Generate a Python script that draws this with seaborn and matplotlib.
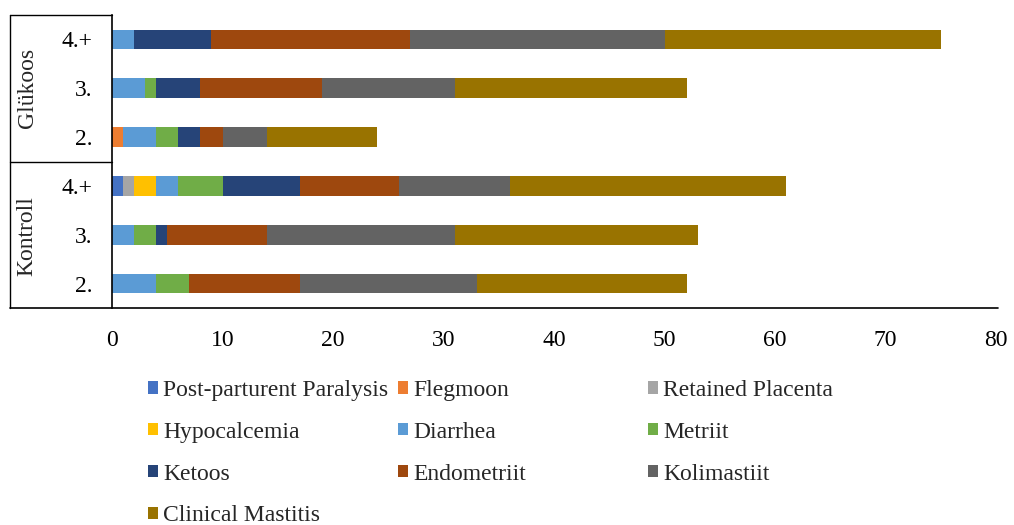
import matplotlib
matplotlib.use("Agg")
import matplotlib.pyplot as plt
from matplotlib.lines import Line2D
from matplotlib.patches import Patch
import pandas as pd
import seaborn as sns

# rows from top to bottom
groups = ["Glükoos", "Glükoos", "Glükoos", "Kontroll", "Kontroll", "Kontroll"]
parity = ["4.+", "3.", "2.", "4.+", "3.", "2."]

diseases = ["Post-parturent Paralysis", "Flegmoon", "Retained Placenta", "Hypocalcemia",
            "Diarrhea", "Metriit", "Ketoos", "Endometriit", "Kolimastiit", "Clinical Mastitis"]

paralysis = [0, 0, 0, 1, 0, 0]
flegmoon = [0, 0, 1, 0, 0, 0]
placenta = [0, 0, 0, 1, 0, 0]
hypocalcemia = [0, 0, 0, 2, 0, 0]
diarrhea = [2, 3, 3, 2, 2, 4]
metriit = [0, 1, 2, 4, 2, 3]
ketoos = [7, 4, 2, 7, 1, 0]
endometriit = [18, 11, 2, 9, 9, 10]
kolimastiit = [23, 12, 4, 10, 17, 16]
mastitis = [25, 21, 10, 25, 22, 19]

colors = ["#4472C4", "#ED7D31", "#A5A5A5", "#FFC000", "#5B9BD5",
          "#70AD47", "#264478", "#9E480E", "#636363", "#997300"]

series = [paralysis, flegmoon, placenta, hypocalcemia, diarrhea,
          metriit, ketoos, endometriit, kolimastiit, mastitis]

rows = [g + " " + p for g, p in zip(groups, parity)]
df = pd.DataFrame(dict(zip(diseases, series)), index=rows)
cum = df.cumsum(axis=1)
cum["row"] = rows

sns.set_theme(style="white")
plt.rcParams["font.family"] = ["Liberation Serif", "DejaVu Serif"]

W, H = 1014, 525
fig = plt.figure(figsize=(W / 100, H / 100), dpi=100)
ax = fig.add_axes([112 / W, 1 - 308 / H, (996 - 112) / W, (308 - 15) / H])

# stacked bars: draw cumulative totals from the last series back to the first
for name, col in reversed(list(zip(diseases, colors))):
    sns.barplot(data=cum, x=name, y="row", order=rows, color=col, saturation=1,
                width=0.4, linewidth=0, ax=ax)

ax.set_xlim(0, 80)
ax.set_ylim(5.5, -0.5)
ax.set_xticks(range(0, 81, 10))
ax.set_yticks(range(len(rows)))
ax.set_yticklabels(parity)
ax.set_xlabel("")
ax.set_ylabel("")
ax.tick_params(axis="both", length=0, labelsize=17, colors="black")
ax.tick_params(axis="y", pad=14)
ax.tick_params(axis="x", pad=16)
for s in ["top", "right", "bottom"]:
    ax.spines[s].set_visible(False)
ax.spines["left"].set_color("black")
ax.spines["left"].set_linewidth(1.2)


def fline(x0, y0, x1, y1, lw=1.0):
    fig.add_artist(Line2D([x0 / W, x1 / W], [1 - y0 / H, 1 - y1 / H],
                          color="black", linewidth=lw))


fline(10, 308, 998, 308, 1.2)
fline(10, 15, 112, 15)
fline(10, 162, 112, 162)
fline(10, 15, 10, 308)

fig.text(27 / W, 1 - 88 / H, "Glükoos", rotation=90, ha="center", va="center", fontsize=17)
fig.text(27 / W, 1 - 236 / H, "Kontroll", rotation=90, ha="center", va="center", fontsize=17)

# legend in three fixed-width columns
cols_idx = [[0, 3, 6, 9], [1, 4, 7], [2, 5, 8]]
col_x = [148, 398, 648]
for idxs, x in zip(cols_idx, col_x):
    handles = [Patch(facecolor=colors[i], edgecolor="none") for i in idxs]
    labels = [diseases[i] for i in idxs]
    fig.legend(handles, labels, loc="upper left", bbox_to_anchor=(x / W, 1 - 380 / H),
               frameon=False, fontsize=17, handlelength=0.42, handleheight=0.42,
               handletextpad=0.22, labelspacing=0.88, borderpad=0, borderaxespad=0)

fig.savefig("out.png", dpi=100)
